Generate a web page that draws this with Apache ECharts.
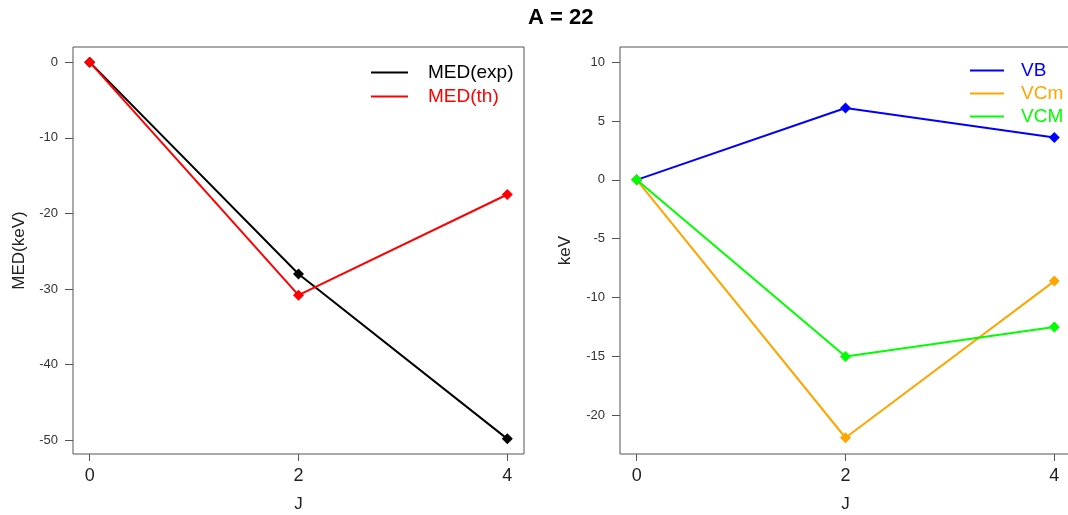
<!DOCTYPE html>
<html>
<head>
<meta charset="utf-8">
<script src="https://cdn.jsdelivr.net/npm/echarts@6/dist/echarts.min.js"></script>
<style>
  html, body { margin: 0; padding: 0; background: #fff; }
  #chart { width: 1068px; height: 515px; }
</style>
</head>
<body>
<div id="chart"></div>
<script>
// J values shared by both panels
const jValues = [0, 2, 4];

// Left panel: mass excess differences (keV)
const medExp = [0, -28.0, -49.8];
const medTh = [0, -30.8, -17.5];

// Right panel: components (keV)
const vb = [0, 6.1, 3.6];
const vcm = [0, -21.9, -8.6];
const vcM = [0, -15.0, -12.5];

// Tick labels
const xTicks = [0, 2, 4];
const leftYTicks = [0, -10, -20, -30, -40, -50];
const rightYTicks = [10, 5, 0, -5, -10, -15, -20];

const FONT = 'Liberation Sans, Arial, sans-serif';
const BOX = '#555';

function pairs(ys) { return jValues.map((x, i) => [x, ys[i]]); }

function lineSeries(name, ys, color, idx) {
  return {
    name: name,
    type: 'line',
    xAxisIndex: idx,
    yAxisIndex: idx,
    data: pairs(ys),
    symbol: 'diamond',
    symbolSize: 11,
    showSymbol: true,
    lineStyle: { color: color, width: 2 },
    itemStyle: { color: color },
    animation: false,
    z: 3
  };
}

function xAxis(idx) {
  return {
    type: 'value', gridIndex: idx, min: -0.16, max: 4.16,
    name: 'J', nameLocation: 'middle', nameGap: 42,
    nameTextStyle: { fontFamily: FONT, fontSize: 17, color: '#222' },
    splitLine: { show: false },
    axisLine: { show: false, onZero: false },
    axisTick: { show: true, length: 7, customValues: xTicks, lineStyle: { color: BOX } },
    axisLabel: { customValues: xTicks, margin: 13, fontFamily: FONT, fontSize: 18, color: '#222' }
  };
}

function yAxis(idx, min, max, ticks, title, gap) {
  return {
    type: 'value', gridIndex: idx, min: min, max: max,
    name: title, nameLocation: 'middle', nameGap: gap, nameRotate: 90,
    nameTextStyle: { fontFamily: FONT, fontSize: 17, color: '#222' },
    splitLine: { show: false },
    axisLine: { show: false, onZero: false },
    axisTick: { show: true, length: 8, customValues: ticks, lineStyle: { color: BOX } },
    axisLabel: { customValues: ticks, margin: 15, fontFamily: FONT, fontSize: 13, color: '#333' }
  };
}

const chart = echarts.init(document.getElementById('chart'), null, { renderer: 'canvas' });

chart.setOption({
  backgroundColor: '#fff',
  animation: false,
  title: {
    text: 'A = 22', left: 523, top: 2,
    textStyle: { fontFamily: FONT, fontSize: 22, fontWeight: 'bold', color: '#000' }
  },
  grid: [
    { left: 73, top: 47, width: 451, height: 407, show: true, borderColor: BOX, borderWidth: 1,
      backgroundColor: 'transparent', outerBoundsMode: 'none' },
    { left: 620, top: 47, width: 451, height: 407, show: true, borderColor: BOX, borderWidth: 1,
      backgroundColor: 'transparent', outerBoundsMode: 'none' }
  ],
  xAxis: [xAxis(0), xAxis(1)],
  yAxis: [
    yAxis(0, -51.8, 2.0, leftYTicks, 'MED(keV)', 45),
    yAxis(1, -23.28, 11.28, rightYTicks, 'keV', 46)
  ],
  legend: [
    {
      left: 371, top: 63, orient: 'vertical', itemGap: 5, padding: 0,
      itemWidth: 37, itemHeight: 2, icon: 'rect',
      textStyle: { fontFamily: FONT, fontSize: 19, padding: [0, 0, 0, 15] },
      data: [
        { name: 'MED(exp)', textStyle: { color: '#000' } },
        { name: 'MED(th)', textStyle: { color: '#f00' } }
      ]
    },
    {
      left: 970, top: 61, orient: 'vertical', itemGap: 4, padding: 0,
      itemWidth: 34, itemHeight: 2, icon: 'rect',
      textStyle: { fontFamily: FONT, fontSize: 19, padding: [0, 0, 0, 12] },
      data: [
        { name: 'VB', textStyle: { color: '#0000ff' } },
        { name: 'VCm', textStyle: { color: '#ffa500' } },
        { name: 'VCM', textStyle: { color: '#00ff00' } }
      ]
    }
  ],
  series: [
    lineSeries('MED(exp)', medExp, '#000000', 0),
    lineSeries('MED(th)', medTh, '#ff0000', 0),
    lineSeries('VB', vb, '#0000ff', 1),
    lineSeries('VCm', vcm, '#ffa500', 1),
    lineSeries('VCM', vcM, '#00ff00', 1)
  ]
});
</script>
</body>
</html>
